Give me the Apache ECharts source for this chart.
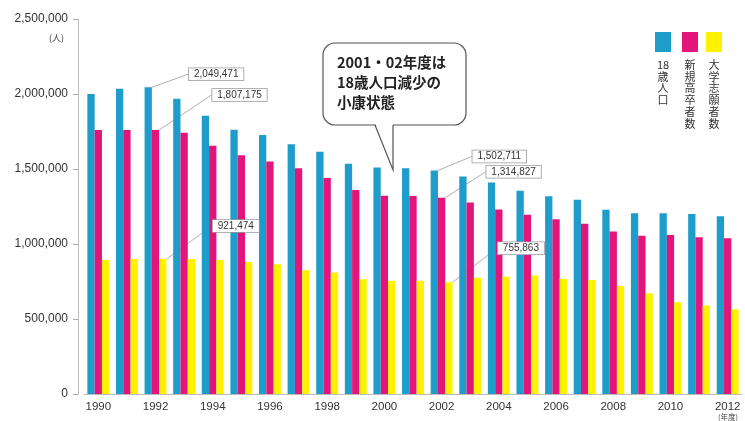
<!DOCTYPE html>
<html><head><meta charset="utf-8">
<script src="https://cdn.jsdelivr.net/npm/echarts@6/dist/echarts.min.js"></script>
<style>html,body{margin:0;padding:0;background:#fff}#c{width:745px;height:421px}</style>
</head><body><div id="c"></div>
<script>
const years = ['1990','1991','1992','1993','1994','1995','1996','1997','1998','1999','2000','2001','2002','2003','2004','2005','2006','2007','2008','2009','2010','2011','2012'];
const seriesNames = ['18歳人口','新規高卒者数','大学志願者数'];
const pop18 = [2000000,2035000,2045000,1968000,1855000,1762000,1727000,1665000,1615000,1535000,1510000,1505000,1490000,1450000,1410000,1355000,1318000,1295000,1228000,1205000,1205000,1200000,1185000];
const grads = [1760000,1760000,1760000,1742000,1655000,1592000,1550000,1505000,1440000,1360000,1322000,1320000,1308000,1277000,1230000,1195000,1165000,1135000,1083000,1055000,1060000,1045000,1038000];
const applicants = [893000,900000,900000,900000,893000,880000,865000,825000,810000,765000,755000,755000,745000,775000,782000,790000,768000,760000,720000,671000,612000,590000,565000];
const noteYears = ['1992','2002'];
const pop18Notes = ['2,049,471','1,502,711'];
const gradsNotes = ['1,807,175','1,314,827'];
const applicantsNotes = ['921,474','755,863'];
const calloutLines = ['2001・02年度は','18歳人口減少の','小康状態'];
const colors = ['#1e9dcb','#e3147a','#fef200'];

const offsets = [
  {'1992':[68,-2],'2002':[65,-3]},
  {'1992':[84,-24],'2002':[72,-15]},
  {'1992':[73,-22],'2002':[72,-23]}
];
function build(values, notes){
  return values.map((v,i)=>{
    const k = noteYears.indexOf(years[i]);
    if(k<0) return v;
    return {value:v, label:{show:true, formatter:notes[k]}, labelLine:{show:true}};
  });
}
function mkSeries(idx, values, notes){
  return {
    name: seriesNames[idx], type:'bar', data: build(values, notes),
    barWidth: 7.3, barGap: '0%',
    itemStyle:{color: colors[idx]},
    label:{show:false, position:'top', distance:5, fontSize:10, color:'#333',
      fontFamily:'Liberation Sans', backgroundColor:'#fff', borderColor:'#999', borderWidth:0.8, padding:[1,5]},
    labelLine:{show:false, lineStyle:{color:'#999', width:0.8}},
    labelLayout: function(p){
      const o = offsets[idx][years[p.dataIndex]];
      return o ? {dx:o[0], dy:o[1]} : {};
    },
    z: 2
  };
}
const legendX = [663, 690, 714];
const legendTexts = [['18','歳','人','口'], '新規高卒者数'.split(''), '大学志願者数'.split('')];
const graphics = [];
legendX.forEach((x,i)=>{
  graphics.push({type:'rect', shape:{x:x-8, y:32, width:16, height:20}, style:{fill:colors[i]}});
  graphics.push({type:'text', x:x, y:59, style:{text:legendTexts[i].join('\n'), fill:'#333', font:'11px "Noto Sans CJK JP"', align:'center', verticalAlign:'top', lineHeight:11.7}});
});
graphics.push({type:'rect', shape:{x:323, y:43, width:143, height:82, r:12}, style:{fill:'#fff', stroke:'#555', lineWidth:1.2}, z:10});
graphics.push({type:'polygon', shape:{points:[[375.8,124],[393,124],[393,169],[392,169]]}, style:{fill:'#fff'}, z:11});
graphics.push({type:'polyline', shape:{points:[[375,125],[393,170],[393,125]]}, style:{stroke:'#555', lineWidth:1.2, fill:null}, z:12});
graphics.push({type:'text', x:337, y:52, style:{text:calloutLines.join('\n'), fill:'#222', font:'bold 14.5px "Noto Sans CJK JP"', lineHeight:20, verticalAlign:'top'}, z:13});
graphics.push({type:'text', x:64, y:38, style:{text:'(人)', fill:'#444', font:'9px "Noto Sans CJK JP"', align:'right', verticalAlign:'middle'}});
graphics.push({type:'text', x:728, y:417, style:{text:'(年度)', fill:'#444', font:'7.5px "Noto Sans CJK JP"', align:'center', verticalAlign:'middle'}});

const chart = echarts.init(document.getElementById('c'));
chart.setOption({
  animation:false,
  grid:{left:84, right:3, top:19, bottom:27, containLabel:false},
  xAxis:{type:'category', data:years,
    axisLine:{lineStyle:{color:'#bbb'}}, axisTick:{show:false},
    axisLabel:{interval:1, margin:7, fontSize:11.5, color:'#333', fontFamily:'Liberation Sans'}},
  yAxis:{type:'value', min:0, max:2500000, interval:500000, offset:6,
    axisLine:{show:true, lineStyle:{color:'#bbb'}}, axisTick:{show:true, length:5, lineStyle:{color:'#aaa'}},
    splitLine:{show:false},
    axisLabel:{margin:10, fontSize:12, color:'#333', fontFamily:'Liberation Sans',
      formatter:v=>v.toLocaleString('en-US')}},
  series:[mkSeries(0,pop18,pop18Notes), mkSeries(1,grads,gradsNotes), mkSeries(2,applicants,applicantsNotes)],
  graphic: graphics
});
</script></body></html>
